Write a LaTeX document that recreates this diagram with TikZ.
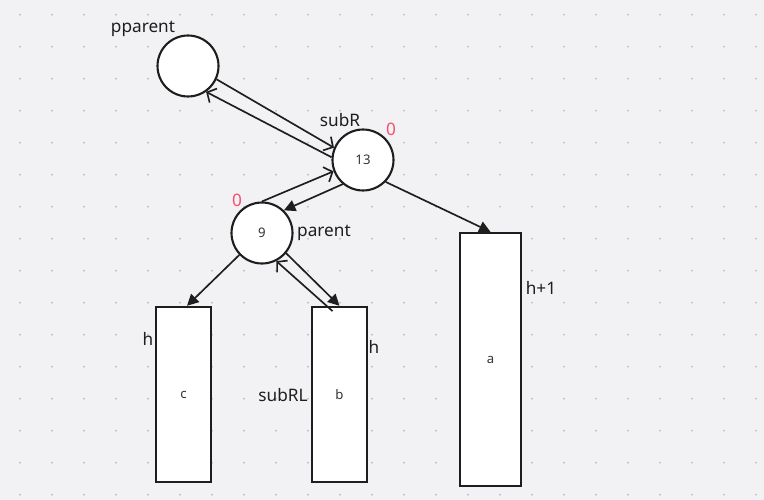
\documentclass[tikz,border=0pt]{standalone}
\usepackage{fontspec}
\setmainfont{Noto Sans}
\usetikzlibrary{arrows.meta}

\begin{document}
\begin{tikzpicture}[x=0.02cm, y=-0.02cm,
  circ/.style={circle, draw=lineDark, fill=white, line width=1.2pt, minimum size=1.22cm, inner sep=0pt, font=\fontsize{7.5}{9}\selectfont, text=txtGray},
  box/.style={rectangle, draw=lineDark, fill=white, line width=1.4pt, inner sep=0pt, font=\fontsize{7.5}{9}\selectfont, text=txtGray},
  lbl/.style={font=\fontsize{9.8}{11}\selectfont, text=lineDark},
  zero/.style={font=\fontsize{9.8}{11}\selectfont, text=colZero},
  fwd/.style={draw=lineDark, line width=0.95pt, -{Triangle[length=6.5pt,width=6.5pt]}},
  back/.style={draw=lineDark, line width=0.95pt, -{Straight Barb[length=4pt,width=9pt]}}]

% Colori
\definecolor{bgGray}{HTML}{F2F2F4}
\definecolor{dotGray}{HTML}{C4C4C8}
\definecolor{lineDark}{HTML}{1E1E1E}
\definecolor{txtGray}{HTML}{333333}
\definecolor{colZero}{HTML}{F5506E}

% Sfondo e griglia di punti
\fill[bgGray] (0,0) rectangle (764,500);
\useasboundingbox (0,0) rectangle (764,500);
\foreach \i in {0,...,23}
  \foreach \j in {0,...,15}
    \fill[dotGray] ({20+32*\i},{14.7+32*\j}) circle (0.6pt);

% Nodi
\node[circ] (pp) at (188,66) {};
\node[circ] (sr) at (363,160) {13};
\node[circ] (pa) at (262,233) {9};

% Sottoalberi
\node[box, minimum width=1.1cm, minimum height=3.5cm] (c) at (183.5,394.5) {c};
\node[box, minimum width=1.1cm, minimum height=3.5cm] (b) at (339.5,394.5) {b};
\node[box, minimum width=1.22cm, minimum height=5.06cm] (a) at (490.5,359.5) {a};

% Etichette
\node[lbl] (lpp) at (143,29) {pparent};
\node[lbl] (lsr) at (340,120) {subR};
\node[zero] (zsr) at (391,129) {0};
\node[zero] (zpa) at (237,200) {0};
\node[lbl] (lpa) at (324,233) {parent};
\node[lbl] (hc) at (148,339) {h};
\node[lbl] (hb) at (374,347) {h};
\node[lbl] (lrl) at (283,395) {subRL};
\node[lbl] (ha) at (541,288) {h+1};

% Collegamenti
\draw[back] (pp.-25) -- (sr.157);
\draw[back] (sr.175) -- (pp.-55);
\draw[back] (pa.90) -- (sr.201);
\draw[fwd] (sr.230) -- (pa.46);
\draw[fwd] (pa.224) -- ([xshift=2pt]c.north);
\draw[fwd] (pa.-40) -- (b.north);
\draw[back] ([xshift=-4pt,yshift=-3pt]b.north) -- (pa.-63);
\draw[fwd] (sr.-44) -- (a.north);
\end{tikzpicture}
\end{document}
